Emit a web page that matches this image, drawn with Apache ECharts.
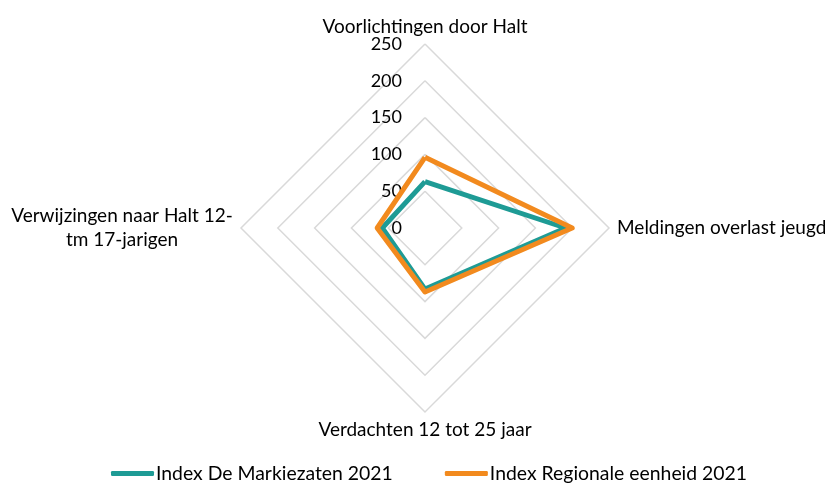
<!DOCTYPE html>
<html>
<head>
<meta charset="utf-8">
<script src="https://cdn.jsdelivr.net/npm/echarts@6/dist/echarts.min.js"></script>
<style>
  html, body { margin: 0; padding: 0; background: #fff; }
  #chart { width: 825px; height: 483px; }
</style>
</head>
<body>
<div id="chart"></div>
<script>
// indicators, in drawing order (top, left, bottom, right)
var indicators = [
  'Voorlichtingen door Halt',
  '{c|Verwijzingen naar Halt 12-}\n{c|tm 17-jarigen}',
  'Verdachten 12 tot 25 jaar',
  'Meldingen overlast jeugd'
];
var seriesNames = ['Index De Markiezaten 2021', 'Index Regionale eenheid 2021'];
var markiezaten = [63, 58, 83, 191];
var regionaal = [96, 65, 87, 200];
var axisMax = 250;
var tickStep = 50;

var font = 'Lato, "Open Sans", sans-serif';
var center = [425, 228];
var radius = 184;

var chart = echarts.init(document.getElementById('chart'));
var option = {
  animation: false,
  textStyle: { fontFamily: font },
  legend: {
    top: 459,
    left: 106,
    icon: 'roundRect',
    itemWidth: 43,
    itemHeight: 5,
    itemGap: 52,
    textStyle: { fontSize: 19.4, color: '#000', fontFamily: font, padding: [0, 0, 0, -3] },
    data: seriesNames
  },
  // polar axis only used to draw the value labels along the top spoke
  polar: { center: center, radius: radius },
  angleAxis: {
    show: false, min: 0, max: 360, startAngle: 90
  },
  radiusAxis: {
    min: 0, max: axisMax, interval: tickStep,
    axisLine: { show: false },
    axisTick: { show: false },
    splitLine: { show: false },
    axisLabel: { fontSize: 18, color: '#000', margin: 23, fontFamily: font }
  },
  radar: {
    center: center,
    radius: radius,
    startAngle: 90,
    shape: 'polygon',
    splitNumber: 5,
    nameGap: 8,
    indicator: indicators.map(function (n) { return { name: n, min: 0, max: axisMax }; }),
    axisName: {
      color: '#000',
      fontSize: 19,
      fontFamily: font,
      rich: { c: { fontSize: 19, fontFamily: font, width: 222, align: 'center', lineHeight: 24, color: '#000' } }
    },
    axisLine: { show: false },
    axisTick: { show: false },
    axisLabel: { show: false },
    splitArea: { show: false },
    splitLine: { lineStyle: { color: '#d9d9d9', width: 1.5 } }
  },
  series: [{
    type: 'radar',
    symbol: 'none',
    data: [
      { name: seriesNames[0], value: markiezaten,
        lineStyle: { color: '#1e9b95', width: 5, join: 'round' }, itemStyle: { color: '#1e9b95' } },
      { name: seriesNames[1], value: regionaal,
        lineStyle: { color: '#f28a1e', width: 5, join: 'round' }, itemStyle: { color: '#f28a1e' } }
    ]
  }]
};
chart.setOption(option);
</script>
</body>
</html>
